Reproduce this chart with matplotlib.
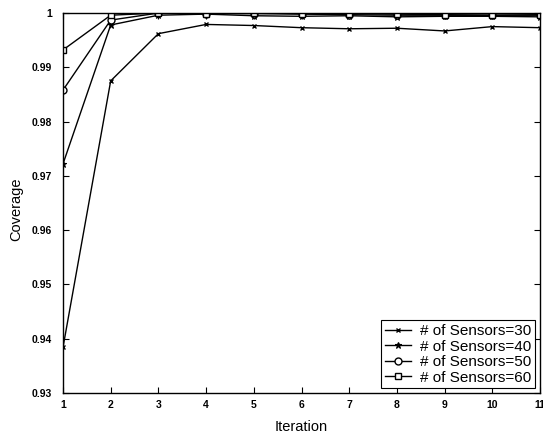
import matplotlib
matplotlib.use("Agg")
import matplotlib.pyplot as plt

iterations = [1, 2, 3, 4, 5, 6, 7, 8, 9, 10, 11]
cov_30 = [0.9384, 0.9875, 0.9962, 0.9979, 0.9977, 0.9973, 0.9971, 0.9972, 0.9967, 0.9975, 0.9973]
cov_40 = [0.9722, 0.9978, 0.9996, 0.9998, 0.9995, 0.9994, 0.9995, 0.9993, 0.9994, 0.9994, 0.9993]
cov_50 = [0.9858, 0.9987, 1.0000, 0.9999, 0.9999, 0.9998, 0.9997, 0.9996, 0.9996, 0.9996, 0.9996]
cov_60 = [0.9932, 0.9996, 1.0000, 0.9999, 1.0000, 0.9999, 0.9999, 0.9998, 0.9997, 0.9996, 0.9997]
labels = ["# of Sensors=30", "# of Sensors=40", "# of Sensors=50", "# of Sensors=60"]
yticks = [0.93, 0.94, 0.95, 0.96, 0.97, 0.98, 0.99, 1.0]
yticklabels = ["0.93", "0.94", "0.95", "0.96", "0.97", "0.98", "0.99", "1"]

plt.rcParams['font.family'] = ['Liberation Sans', 'DejaVu Sans']

fig = plt.figure(figsize=(5.43, 4.36), dpi=100)
ax = fig.add_axes([0.116, 0.0986, 0.8785, 0.8715])

ax.plot(iterations, cov_30, color='black', lw=1, marker='x', ms=3.5, mew=1, label=labels[0])
ax.plot(iterations, cov_40, color='black', lw=1, marker='*', ms=5, mew=0.8, label=labels[1])
ax.plot(iterations, cov_50, color='black', lw=1, marker='o', ms=5, mfc='white', mew=1, label=labels[2])
ax.plot(iterations, cov_60, color='black', lw=1, marker='s', ms=4.5, mfc='white', mew=1, label=labels[3])

ax.set_xlim(1, 11)
ax.set_ylim(0.93, 1.0)
ax.set_xticks(iterations)
ax.set_xticklabels([str(i) for i in iterations], fontsize=7.5, fontweight='bold')
ax.set_yticks(yticks)
ax.set_yticklabels(yticklabels, fontsize=7.5, fontweight='bold')
ax.tick_params(direction='in', length=4, width=0.8, top=True, right=True)
ax.tick_params(axis='y', pad=8)
ax.tick_params(axis='x', pad=5)
for s in ax.spines.values():
    s.set_linewidth(1)

ax.set_xlabel("Iteration", fontsize=10.5, labelpad=7)
ax.set_ylabel("Coverage", fontsize=10.5)
ax.yaxis.set_label_coords(-0.084, 0.484)

leg = ax.legend(loc='lower right', fontsize=11, frameon=True, fancybox=False,
                edgecolor='black', framealpha=1, handlelength=1.7, handletextpad=0.6,
                labelspacing=0.1, borderpad=0.25, borderaxespad=0.3)
leg.get_frame().set_linewidth(0.8)

fig.savefig("out.png", dpi=100)
